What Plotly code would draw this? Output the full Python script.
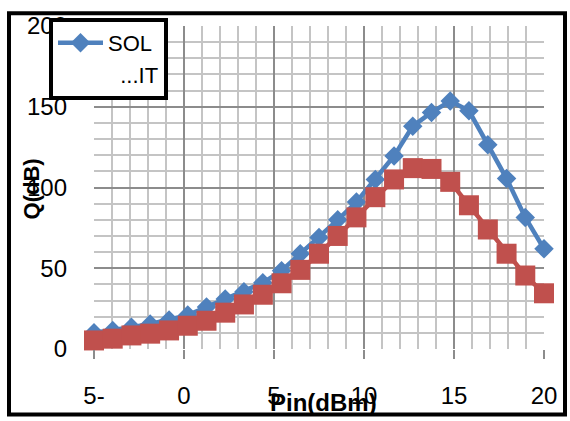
import plotly.graph_objects as go

# Data
pin_dbm = [-5.0, -3.96, -2.92, -1.88, -0.83, 0.21, 1.25, 2.29, 3.33, 4.38,
           5.42, 6.46, 7.5, 8.54, 9.58, 10.63, 11.67, 12.71, 13.75, 14.79,
           15.83, 16.88, 17.92, 18.96, 20.0]
q_sol = [10, 11.5, 13.5, 15.5, 18, 21, 26, 31, 35.5, 41,
         48.5, 59, 69, 80, 91, 105, 119.5, 138, 146.5, 153.5,
         147.5, 126.5, 105.5, 81.5, 62]
q_it = [5.3, 6.4, 8.4, 9.5, 11.5, 14.4, 17.5, 22.5, 27.6, 33.6,
        40.7, 49, 59, 70, 81.5, 94, 105, 112, 111.5, 103.5,
        89, 74, 59, 45.5, 34.5]
x_tickvals = [-5, 0, 5, 10, 15, 20]
x_ticktext = ["5-", "0", "5", "10", "15", "20"]
y_tickvals = [0, 50, 100, 150, 200]
y_ticktext = ["0", "50", "100", "150", "200"]

BLUE = "#4F81BD"
RED = "#C0504D"
FONT = "Liberation Sans"

fig = go.Figure()
fig.add_trace(go.Scatter(
    x=pin_dbm, y=q_sol, name="SOL", mode="lines+markers",
    line=dict(color=BLUE, width=4.5),
    marker=dict(symbol="diamond", size=15, color=BLUE),
    cliponaxis=False, legendgroup="a"))
fig.add_trace(go.Scatter(
    x=pin_dbm, y=q_it, name="IT", mode="lines+markers",
    line=dict(color=RED, width=4.5),
    marker=dict(symbol="square", size=20, color=RED),
    cliponaxis=False, showlegend=False))
fig.add_trace(go.Scatter(
    x=[None], y=[None], name="\u00a0\u00a0...IT", mode="lines",
    line=dict(color="rgba(0,0,0,0)", width=0), legendgroup="b"))

fig.update_layout(
    width=570, height=421,
    margin=dict(l=94, r=26, t=20, b=71),
    paper_bgcolor="white", plot_bgcolor="white",
    font=dict(family=FONT, size=24, color="black"),
    showlegend=True,
    legend=dict(x=-0.1, y=1.025, xanchor="left", yanchor="top",
                bgcolor="white", bordercolor="black", borderwidth=4,
                font=dict(size=22, family=FONT, color="black"),
                itemwidth=45, tracegroupgap=0),
    xaxis=dict(range=[-5, 20], tickvals=x_tickvals, ticktext=x_ticktext,
               showgrid=True, gridcolor="#8C8C8C", gridwidth=2,
               minor=dict(dtick=1, showgrid=True, gridcolor="#C4C4C4", gridwidth=1.5,
                          ticks=""),
               ticks="outside", ticklen=9, tickwidth=2, tickcolor="#8C8C8C",
               ticklabelstandoff=16, zeroline=False, showline=False,
               tickfont=dict(size=24, family=FONT)),
    yaxis=dict(range=[0, 200], tickvals=y_tickvals, ticktext=y_ticktext,
               showgrid=True, gridcolor="#8C8C8C", gridwidth=2,
               minor=dict(dtick=10, showgrid=True, gridcolor="#C4C4C4", gridwidth=1.5,
                          ticks=""),
               ticks="", ticklabelstandoff=26, zeroline=False, showline=False,
               tickfont=dict(size=24, family=FONT)),
)

# outer chart frame
fig.add_shape(type="rect", xref="paper", yref="paper",
              x0=(9 - 94) / 450, x1=(565 - 94) / 450,
              y0=(350 - 417) / 330, y1=(350 - 7) / 330,
              line=dict(color="black", width=4), fillcolor="rgba(0,0,0,0)",
              layer="above")

# axis titles
fig.add_annotation(text="<b>Pin(dBm)</b>", xref="paper", yref="paper",
                   x=(323 - 94) / 450, y=(350 - 405) / 330,
                   xanchor="center", yanchor="middle", showarrow=False,
                   font=dict(size=24, family=FONT, color="black"))
fig.add_annotation(text="<b>Q(dB)</b>", xref="paper", yref="paper",
                   x=(31 - 94) / 450, y=(350 - 186) / 330, textangle=-90,
                   xanchor="center", yanchor="middle", showarrow=False,
                   font=dict(size=22, family=FONT, color="black"))

fig.write_html("out.html")
